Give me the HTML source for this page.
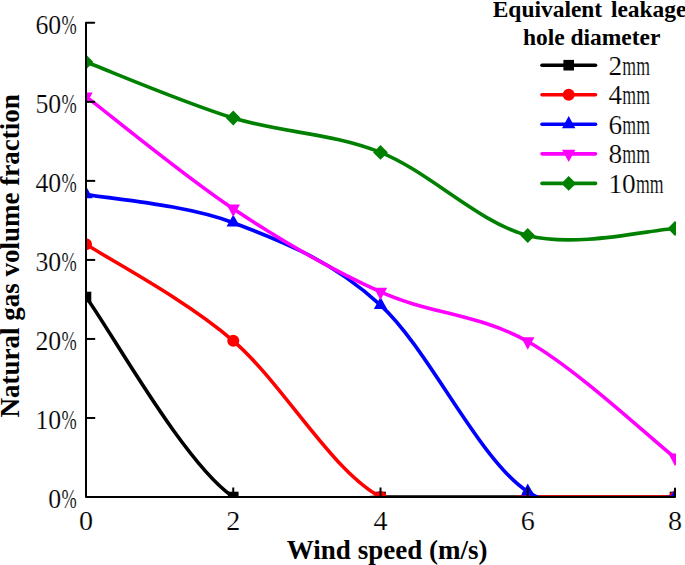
<!DOCTYPE html>
<html><head><meta charset="utf-8"><style>
html,body{margin:0;padding:0;background:#fff;width:685px;height:565px;overflow:hidden}
svg{display:block}
.tl{font-family:"Liberation Serif",serif;font-size:27.3px;fill:#000;stroke:#fff;stroke-width:0.2px}
.lg{font-family:"Liberation Serif",serif;font-size:26px;fill:#111}
.b{font-family:"Liberation Serif",serif;font-weight:bold;fill:#000}
</style></head><body>
<svg width="685" height="565" viewBox="0 0 685 565">
<defs><clipPath id="pc"><rect x="86.0" y="0" width="590.00" height="497.0"/></clipPath></defs>
<g clip-path="url(#pc)">
<path d="M86.00,297.00 C110.54,330.33 184.17,463.67 233.25,497.00 C282.33,530.33 331.42,497.00 380.50,497.00 C429.58,497.00 478.67,497.00 527.75,497.00 C576.83,497.00 650.46,497.00 675.00,497.00" fill="none" stroke="#000000" stroke-width="3.6" stroke-linejoin="round" stroke-linecap="round"/>
<rect x="80.70" y="291.70" width="10.6" height="10.6" fill="#000000"/>
<rect x="227.95" y="491.70" width="10.6" height="10.6" fill="#000000"/>
<rect x="375.20" y="491.70" width="10.6" height="10.6" fill="#000000"/>
<rect x="522.45" y="491.70" width="10.6" height="10.6" fill="#000000"/>
<rect x="669.70" y="491.70" width="10.6" height="10.6" fill="#000000"/>
<path d="M86.00,244.20 C110.54,260.30 184.17,298.67 233.25,340.80 C282.33,382.93 331.42,470.97 380.50,497.00 C429.58,523.03 478.67,497.00 527.75,497.00 C576.83,497.00 650.46,497.00 675.00,497.00" fill="none" stroke="#ff0000" stroke-width="3.6" stroke-linejoin="round" stroke-linecap="round"/>
<circle cx="86.00" cy="244.20" r="6" fill="#ff0000"/>
<circle cx="233.25" cy="340.80" r="6" fill="#ff0000"/>
<circle cx="380.50" cy="497.00" r="6" fill="#ff0000"/>
<circle cx="527.75" cy="497.00" r="6" fill="#ff0000"/>
<circle cx="675.00" cy="497.00" r="6" fill="#ff0000"/>
<path d="M86.00,194.30 C110.54,199.03 184.17,204.23 233.25,222.70 C282.33,241.17 331.42,260.27 380.50,305.10 C429.58,349.93 478.67,459.72 527.75,491.70 C576.83,523.68 650.46,496.12 675.00,497.00" fill="none" stroke="#0000ff" stroke-width="3.6" stroke-linejoin="round" stroke-linecap="round"/>
<path d="M86.00,186.10 L92.70,198.20 L79.30,198.20 Z" fill="#0000ff"/>
<path d="M233.25,214.50 L239.95,226.60 L226.55,226.60 Z" fill="#0000ff"/>
<path d="M380.50,296.90 L387.20,309.00 L373.80,309.00 Z" fill="#0000ff"/>
<path d="M527.75,483.50 L534.45,495.60 L521.05,495.60 Z" fill="#0000ff"/>
<path d="M675.00,488.80 L681.70,500.90 L668.30,500.90 Z" fill="#0000ff"/>
<path d="M86.00,96.60 C110.54,115.30 184.17,176.25 233.25,208.80 C282.33,241.35 331.42,269.78 380.50,291.90 C429.58,314.02 478.67,313.85 527.75,341.50 C576.83,369.15 650.46,438.42 675.00,457.80" fill="none" stroke="#ff00ff" stroke-width="3.6" stroke-linejoin="round" stroke-linecap="round"/>
<path d="M86.00,104.80 L92.70,92.40 L79.30,92.40 Z" fill="#ff00ff"/>
<path d="M233.25,217.00 L239.95,204.60 L226.55,204.60 Z" fill="#ff00ff"/>
<path d="M380.50,300.10 L387.20,287.70 L373.80,287.70 Z" fill="#ff00ff"/>
<path d="M527.75,349.70 L534.45,337.30 L521.05,337.30 Z" fill="#ff00ff"/>
<path d="M675.00,466.00 L681.70,453.60 L668.30,453.60 Z" fill="#ff00ff"/>
<path d="M86.00,62.00 C110.54,71.33 184.17,102.93 233.25,118.00 C282.33,133.07 331.42,132.82 380.50,152.40 C429.58,171.98 478.67,222.82 527.75,235.50 C576.83,248.18 650.46,229.67 675.00,228.50" fill="none" stroke="#008000" stroke-width="3.6" stroke-linejoin="round" stroke-linecap="round"/>
<path d="M86.00,54.60 L93.40,62.00 L86.00,69.40 L78.60,62.00 Z" fill="#008000"/>
<path d="M233.25,110.60 L240.65,118.00 L233.25,125.40 L225.85,118.00 Z" fill="#008000"/>
<path d="M380.50,145.00 L387.90,152.40 L380.50,159.80 L373.10,152.40 Z" fill="#008000"/>
<path d="M527.75,228.10 L535.15,235.50 L527.75,242.90 L520.35,235.50 Z" fill="#008000"/>
<path d="M675.00,221.10 L682.40,228.50 L675.00,235.90 L667.60,228.50 Z" fill="#008000"/>
</g>
<path d="M94.20,22.82 L86.0,22.82 L86.0,497.0 L675.00,497.0 L675.00,488.50" fill="none" stroke="#000" stroke-width="2" stroke-linejoin="round" stroke-linecap="round"/>
<line x1="86.0" y1="417.97" x2="95.20" y2="417.97" stroke="#000" stroke-width="2"/>
<line x1="86.0" y1="338.94" x2="95.20" y2="338.94" stroke="#000" stroke-width="2"/>
<line x1="86.0" y1="259.91" x2="95.20" y2="259.91" stroke="#000" stroke-width="2"/>
<line x1="86.0" y1="180.88" x2="95.20" y2="180.88" stroke="#000" stroke-width="2"/>
<line x1="86.0" y1="101.85" x2="95.20" y2="101.85" stroke="#000" stroke-width="2"/>
<line x1="233.25" y1="497.0" x2="233.25" y2="487.50" stroke="#000" stroke-width="2"/>
<line x1="380.50" y1="497.0" x2="380.50" y2="487.50" stroke="#000" stroke-width="2"/>
<line x1="527.75" y1="497.0" x2="527.75" y2="487.50" stroke="#000" stroke-width="2"/>
<text x="61.2" y="508.30" text-anchor="end" class="tl" transform="translate(61.2,0) scale(0.945,1) translate(-61.2,0)">0</text>
<text x="61.6" y="508.30" class="tl" transform="translate(61.6,0) scale(0.67,1) translate(-61.6,0)">%</text>
<text x="61.2" y="429.27" text-anchor="end" class="tl" transform="translate(61.2,0) scale(0.945,1) translate(-61.2,0)">10</text>
<text x="61.6" y="429.27" class="tl" transform="translate(61.6,0) scale(0.67,1) translate(-61.6,0)">%</text>
<text x="61.2" y="350.24" text-anchor="end" class="tl" transform="translate(61.2,0) scale(0.945,1) translate(-61.2,0)">20</text>
<text x="61.6" y="350.24" class="tl" transform="translate(61.6,0) scale(0.67,1) translate(-61.6,0)">%</text>
<text x="61.2" y="271.21" text-anchor="end" class="tl" transform="translate(61.2,0) scale(0.945,1) translate(-61.2,0)">30</text>
<text x="61.6" y="271.21" class="tl" transform="translate(61.6,0) scale(0.67,1) translate(-61.6,0)">%</text>
<text x="61.2" y="192.18" text-anchor="end" class="tl" transform="translate(61.2,0) scale(0.945,1) translate(-61.2,0)">40</text>
<text x="61.6" y="192.18" class="tl" transform="translate(61.6,0) scale(0.67,1) translate(-61.6,0)">%</text>
<text x="61.2" y="113.15" text-anchor="end" class="tl" transform="translate(61.2,0) scale(0.945,1) translate(-61.2,0)">50</text>
<text x="61.6" y="113.15" class="tl" transform="translate(61.6,0) scale(0.67,1) translate(-61.6,0)">%</text>
<text x="61.2" y="34.12" text-anchor="end" class="tl" transform="translate(61.2,0) scale(0.945,1) translate(-61.2,0)">60</text>
<text x="61.6" y="34.12" class="tl" transform="translate(61.6,0) scale(0.67,1) translate(-61.6,0)">%</text>
<text x="86.00" y="530.4" text-anchor="middle" class="tl" transform="translate(86.00,0) scale(1.03,1) translate(-86.00,0)">0</text>
<text x="233.25" y="530.4" text-anchor="middle" class="tl" transform="translate(233.25,0) scale(1.03,1) translate(-233.25,0)">2</text>
<text x="380.50" y="530.4" text-anchor="middle" class="tl" transform="translate(380.50,0) scale(1.03,1) translate(-380.50,0)">4</text>
<text x="527.75" y="530.4" text-anchor="middle" class="tl" transform="translate(527.75,0) scale(1.03,1) translate(-527.75,0)">6</text>
<text x="675.00" y="530.4" text-anchor="middle" class="tl" transform="translate(675.00,0) scale(1.03,1) translate(-675.00,0)">8</text>
<line x1="542" y1="65.20" x2="595.5" y2="65.20" stroke="#000000" stroke-width="3.6" stroke-linecap="round"/>
<rect x="563.40" y="59.90" width="10.6" height="10.6" fill="#000000"/>
<text x="608.4" y="74.80" class="tl">2</text>
<text x="622.35" y="74.80" class="tl" transform="translate(622.35,0) scale(0.65,1) translate(-622.35,0)">mm</text>
<line x1="542" y1="94.75" x2="595.5" y2="94.75" stroke="#ff0000" stroke-width="3.6" stroke-linecap="round"/>
<circle cx="568.70" cy="94.75" r="6" fill="#ff0000"/>
<text x="608.4" y="104.35" class="tl">4</text>
<text x="622.35" y="104.35" class="tl" transform="translate(622.35,0) scale(0.65,1) translate(-622.35,0)">mm</text>
<line x1="542" y1="124.30" x2="595.5" y2="124.30" stroke="#0000ff" stroke-width="3.6" stroke-linecap="round"/>
<path d="M568.70,116.10 L575.40,128.20 L562.00,128.20 Z" fill="#0000ff"/>
<text x="608.4" y="133.90" class="tl">6</text>
<text x="622.35" y="133.90" class="tl" transform="translate(622.35,0) scale(0.65,1) translate(-622.35,0)">mm</text>
<line x1="542" y1="153.85" x2="595.5" y2="153.85" stroke="#ff00ff" stroke-width="3.6" stroke-linecap="round"/>
<path d="M568.70,162.05 L575.40,149.65 L562.00,149.65 Z" fill="#ff00ff"/>
<text x="608.4" y="163.45" class="tl">8</text>
<text x="622.35" y="163.45" class="tl" transform="translate(622.35,0) scale(0.65,1) translate(-622.35,0)">mm</text>
<line x1="542" y1="183.40" x2="595.5" y2="183.40" stroke="#008000" stroke-width="3.6" stroke-linecap="round"/>
<path d="M568.70,176.00 L576.10,183.40 L568.70,190.80 L561.30,183.40 Z" fill="#008000"/>
<text x="608.4" y="193.00" class="tl">10</text>
<text x="636.00" y="193.00" class="tl" transform="translate(636.00,0) scale(0.65,1) translate(-636.00,0)">mm</text>
<text class="b" font-size="24px" transform="translate(492.7,16.5) scale(0.978,1)">Equivalent</text>
<text class="b" font-size="24px" transform="translate(610.9,16.5) scale(0.978,1)">leakage</text>
<text class="b" font-size="24px" transform="translate(522.9,45.3) scale(0.978,1)">hole diameter</text>
<text class="b" font-size="28.2px" transform="translate(286.8,558.5) scale(0.9587,1)">Wind speed (m/s)</text>
<text class="b" font-size="28px" transform="translate(19.0,417.5) rotate(-90) scale(0.965,1)">Natural gas volume fraction</text>
</svg>
</body></html>
